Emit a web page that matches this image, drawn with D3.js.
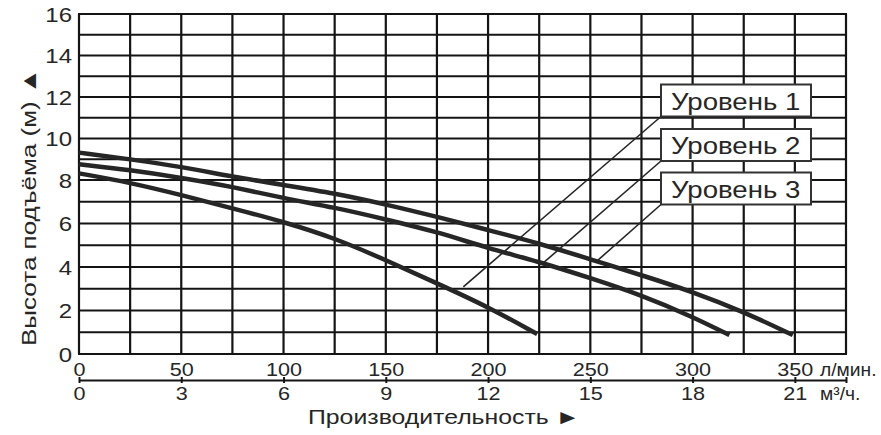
<!DOCTYPE html>
<html><head><meta charset="utf-8">
<script src="https://cdn.jsdelivr.net/npm/d3@7"></script>
<style>
body{margin:0;background:#fff}
svg text{font-family:"Liberation Sans",Arial,sans-serif;fill:#262626}
</style></head><body>
<svg id="chart" width="881" height="435"></svg>
<script>
// ---- data ----
const level1X = [0,25,50,75,100,125,150,175,200,224];
const level1Y = [8.32,7.88,7.31,6.70,6.08,5.33,4.32,3.25,2.17,0.92];
const level2X = [0,25,50,75,100,125,150,175,200,225,250,275,300,318];
const level2Y = [8.76,8.48,8.11,7.69,7.16,6.74,6.19,5.62,4.86,4.24,3.49,2.71,1.71,0.87];
const level3X = [0,25,50,75,100,125,150,175,200,225,250,275,300,325,349];
const level3Y = [9.32,9.00,8.64,8.16,7.77,7.39,6.88,6.31,5.70,5.09,4.35,3.63,2.86,1.94,0.87];
const seriesNames = ["Уровень 1","Уровень 2","Уровень 3"];
const leaderX = [187.9,226.4,253.3];
const leaderY = [3.09,4.14,4.28];
const yTicks = [0,2,4,6,8,10,12,14,16];
const lpmTicks = [0,50,100,150,200,250,300,350];
const m3hTicks = [0,3,6,9,12,15,18,21];
const yTitle = "Высота подъёма (м) ▲";
const xTitle = "Производительность ►";
const lpmUnit = "л/мин.";
const m3hUnit = "м³/ч.";

// ---- layout ----
const svg = d3.select("#chart");
const L = 79, R = 846, T = 14, B = 354;
const x = d3.scaleLinear().domain([0,375]).range([L,R]);
const xm = d3.scaleLinear().domain([0,22.5]).range([L,R]);
const y = d3.scaleLinear().domain([0,8,16]).range([B,180,T]);
const SX = 1.2;
const ink = "#141414";

// grid
const grid = svg.append("g");
grid.selectAll("line.v").data(d3.range(0,376,25)).join("line")
  .attr("x1",d=>x(d)).attr("x2",d=>x(d)).attr("y1",T).attr("y2",B)
  .attr("stroke",ink).attr("stroke-width",2.2);
grid.selectAll("line.h").data(d3.range(0,17,1)).join("line")
  .attr("y1",d=>y(d)).attr("y2",d=>y(d)).attr("x1",L-1).attr("x2",R+1)
  .attr("stroke",ink).attr("stroke-width",2.2);

// y axis labels
const ya = svg.append("g").attr("transform",`translate(${L},0)`)
  .call(d3.axisLeft(y).tickValues(yTicks).tickSize(0).tickPadding(7));
ya.select(".domain").remove();
ya.selectAll("text").style("font-size","20px").attr("x",-7/SX).attr("dy","0.36em")
  .attr("transform",`scale(${SX},1)`);

// top (l/min) labels
const xa = svg.append("g").attr("transform","translate(0,380)")
  .call(d3.axisTop(x).tickValues(lpmTicks).tickSize(0));
xa.select(".domain").remove();
xa.selectAll("text").style("font-size","18px").attr("y",-4).attr("dy","0")
  .attr("x",0).attr("transform",`scale(${SX},1)`);

// bottom (m3/h) axis line
const xb = svg.append("g").attr("transform","translate(0,380)")
  .call(d3.axisBottom(xm).tickValues(m3hTicks.concat([22.5])).tickSize(3).tickSizeOuter(0)
    .tickFormat(d=> d===22.5 ? "" : d));
xb.select(".domain").attr("stroke",ink).attr("stroke-width",2);
xb.selectAll(".tick line").attr("y1",-3).attr("y2",3).attr("stroke",ink).attr("stroke-width",2);
xb.selectAll("text").style("font-size","18px").attr("y",20).attr("dy","0")
  .attr("transform",`scale(${SX},1)`);

function stext(tx,ty,str,size,sx,anchor,rot){
  return svg.append("text").attr("x",0).attr("y",0).text(str)
    .style("font-size",size+"px").attr("text-anchor",anchor||"start")
    .attr("transform",`translate(${tx},${ty}) rotate(${rot||0}) scale(${sx},1)`);
}
stext(820,376,lpmUnit,18,1.07);
stext(820,400,m3hUnit,18,1.07);
stext(308,424,xTitle,20.5,1.21);
stext(36,346,yTitle,21,1.24,"start",-90);

// curves
const line = d3.line().x(d=>x(d[0])).y(d=>y(d[1])).curve(d3.curveBasis);
const series = [[level1X,level1Y],[level2X,level2Y],[level3X,level3Y]];
svg.append("g").selectAll("path").data(series).join("path")
  .attr("d",s=>line(s[0].map((v,i)=>[v,s[1][i]])))
  .attr("fill","none").attr("stroke","#262626").attr("stroke-width",4.5);

// legend boxes + leaders
const boxX = 661, boxW = 150, boxH = 32, boxTops = [84.5,129,172.5];
const lg = svg.append("g");
seriesNames.forEach((name,i)=>{
  lg.append("line").attr("x1",boxX).attr("y1",boxTops[i]+boxH)
    .attr("x2",x(leaderX[i])).attr("y2",y(leaderY[i]))
    .attr("stroke","#262626").attr("stroke-width",1.6);
  lg.append("rect").attr("x",boxX).attr("y",boxTops[i]).attr("width",boxW).attr("height",boxH)
    .attr("fill","#fff").attr("stroke","#333").attr("stroke-width",2);
  lg.append("text").attr("x",0).attr("y",0).text(name).style("font-size","24px")
    .attr("transform",`translate(${boxX+10},${boxTops[i]+25}) scale(1.15,1)`);
});
</script></body></html>
